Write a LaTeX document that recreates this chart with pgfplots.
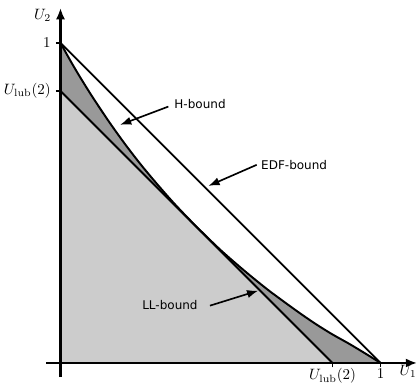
\documentclass[border=0pt]{standalone}
\usepackage{fontspec}
\newfontfamily\dejavu{DejaVu Sans}
\usepackage{pgfplots}
\pgfplotsset{compat=1.18}
\usetikzlibrary{arrows.meta}
\definecolor{darkfill}{RGB}{153,153,153}
\definecolor{lightfill}{RGB}{204,204,204}

\pgfplotstableread{
u1 u2
0 1
0.03 0.946
0.06 0.895
0.1 0.831
0.15 0.756
0.2 0.686
0.25 0.621
0.3 0.561
0.35 0.504
0.4 0.451
0.45 0.401
0.5 0.353
0.55 0.309
0.6 0.267
0.65 0.227
0.7 0.190
0.75 0.154
0.8 0.120
0.85 0.089
0.9 0.061
0.95 0.031
1 0
}\hbound

\begin{document}
\begin{tikzpicture}
\begin{axis}[
  x=213.3pt, y=213.3pt,
  xmin=-0.045, xmax=1.114, ymin=-0.044, ymax=1.109,
  axis lines=middle,
  axis on top,
  axis line style={line width=1.4pt, -{Latex[length=7.5pt,width=6pt]}},
  xtick={0.85,1}, xticklabels={$U_{\mathrm{lub}}(2)$,$1$},
  ytick={0.85,1}, yticklabels={$U_{\mathrm{lub}}(2)$,$1$},
  xticklabel style={yshift=2.8pt},
  tick align=outside, major tick length=3pt,
  tick style={black, line width=1pt},
  clip=false,
]
% H-bound region
\addplot[fill=darkfill, draw=none, smooth] table[x=u1,y=u2] {\hbound} \closedcycle;
% LL-bound region
\addplot[fill=lightfill, draw=none] coordinates {(0,0.85) (0.85,0)} \closedcycle;
% curves
\addplot[black, line width=1.3pt, smooth] table[x=u1,y=u2] {\hbound};
\addplot[black, line width=1.3pt] coordinates {(0,0.85) (0.85,0)};
\addplot[black, line width=1.2pt] coordinates {(0,1) (1,0)};

% annotations
\node[font=\dejavu\fontsize{8}{9.6}\selectfont] at (axis cs:0.436,0.808) {H-bound};
\draw[line width=1.1pt, -{Latex[length=7.5pt,width=5.5pt]}] (axis cs:0.337,0.801) -- (axis cs:0.186,0.744);
\node[font=\dejavu\fontsize{8}{9.6}\selectfont] at (axis cs:0.73,0.619) {EDF-bound};
\draw[line width=1.1pt, -{Latex[length=7.5pt,width=5.5pt]}] (axis cs:0.613,0.619) -- (axis cs:0.462,0.553);
\node[font=\dejavu\fontsize{8}{9.6}\selectfont] at (axis cs:0.342,0.181) {LL-bound};
\draw[line width=1.1pt, -{Latex[length=7.5pt,width=5.5pt]}] (axis cs:0.467,0.179) -- (axis cs:0.618,0.226);

\node at (axis cs:-0.056,1.087) {$U_2$};
\node at (axis cs:1.086,-0.027) {$U_1$};

\coordinate (bl) at (axis cs:-0.189,-0.0625);
\coordinate (tr) at (axis cs:1.117,1.134);
\end{axis}
\pgfresetboundingbox
\useasboundingbox (bl) rectangle (tr);
\end{tikzpicture}
\end{document}
